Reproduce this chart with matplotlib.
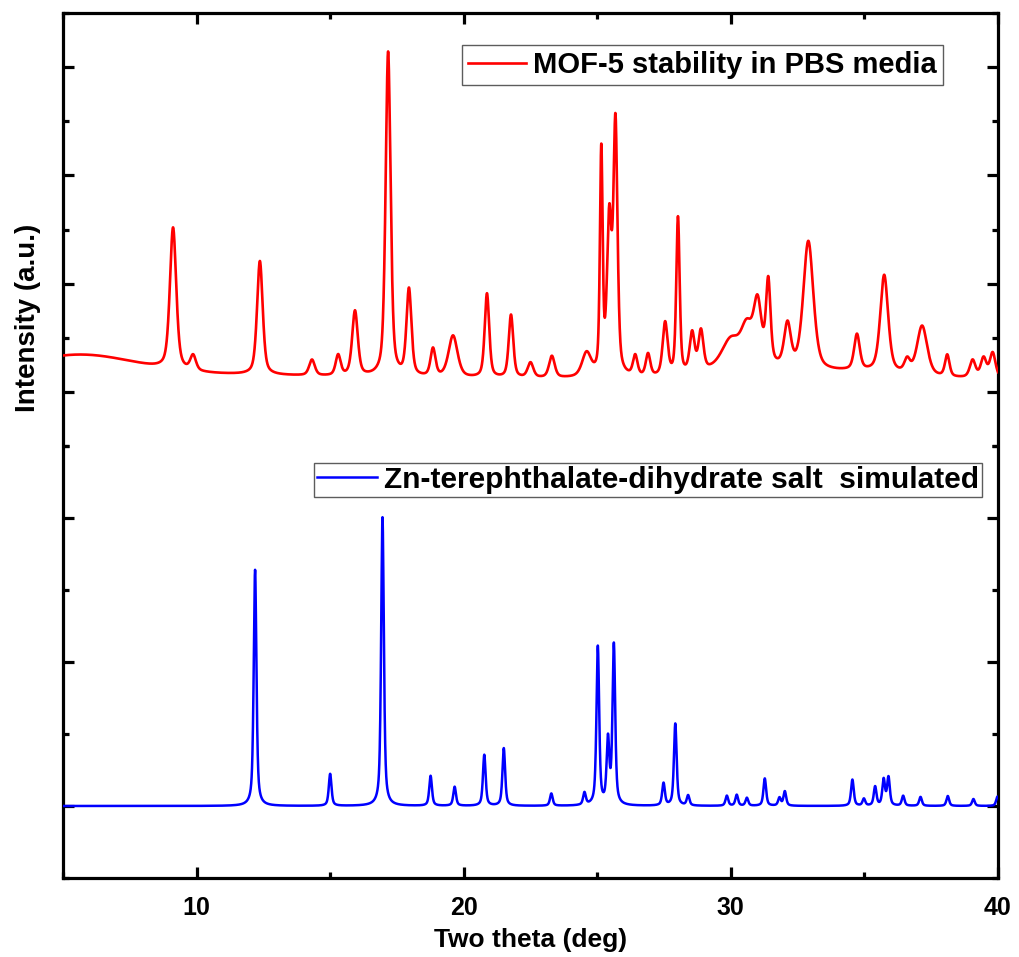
import numpy as np
import matplotlib
matplotlib.use('Agg')
from matplotlib import pyplot as plt
from matplotlib.ticker import MultipleLocator

plt.rcParams['font.family'] = 'Liberation Sans'
plt.rcParams['font.weight'] = 'bold'

# MOF-5 in PBS: peak centre (deg), height above background (a.u.), FWHM (deg)
red_pos = [9.12, 9.87, 12.37, 14.32, 15.30, 15.93, 17.17, 17.95, 18.85, 19.60,
           20.87, 21.77, 22.50, 23.30, 24.60, 25.15, 25.45, 25.68, 26.42, 26.90,
           27.54, 28.02, 28.55, 28.88, 30.00, 30.60, 31.00, 31.40, 32.12, 32.90,
           34.72, 35.74, 36.60, 37.16, 38.10, 39.05, 39.46, 39.80]
red_amp = [1310, 140, 1050, 146, 190, 600, 3000, 800, 257, 386,
           776, 580, 138, 200, 220, 2050, 1400, 2300, 187, 205,
           490, 1450, 363, 370, 250, 320, 550, 760, 400, 1200,
           330, 900, 120, 460, 200, 160, 180, 230]
red_fwhm = [0.28, 0.25, 0.25, 0.25, 0.22, 0.25, 0.22, 0.22, 0.22, 0.40,
            0.20, 0.20, 0.25, 0.25, 0.40, 0.12, 0.20, 0.18, 0.20, 0.20,
            0.22, 0.15, 0.22, 0.22, 0.80, 0.50, 0.35, 0.20, 0.30, 0.45,
            0.25, 0.35, 0.25, 0.45, 0.20, 0.25, 0.25, 0.25]
# broad amorphous background humps: centre, height, FWHM
red_bg_level = 120
red_bg_pos = [5.5, 10.0, 30.5, 34.5]
red_bg_amp = [200, 40, 100, 60]
red_bg_fwhm = [5.0, 10.0, 3.0, 4.0]

# Zn-terephthalate-dihydrate simulated pattern
blue_pos = [12.19, 15.00, 16.96, 18.76, 19.66, 20.77, 21.50, 23.28, 24.52, 25.02,
            25.40, 25.62, 27.48, 27.92, 28.40, 29.85, 30.22, 30.60, 31.27, 31.82,
            32.02, 34.55, 34.98, 35.40, 35.72, 35.90, 36.45, 37.10, 38.12, 39.08, 39.98]
blue_amp = [1640, 222, 2005, 208, 132, 354, 400, 85, 85, 1100,
            440, 1110, 155, 570, 70, 70, 76, 55, 190, 55,
            100, 182, 48, 132, 180, 195, 69, 62, 69, 48, 65]
blue_fwhm = 0.12

x_min, x_max = 5, 40


def pv(x, c, a, w, eta=0.5):
    d = (x - c) / w
    return a * (eta / (1 + 4 * d ** 2) + (1 - eta) * np.exp(-4 * np.log(2) * d ** 2))


tt = np.linspace(x_min, x_max, 7001)
red = np.full_like(tt, red_bg_level, dtype=float)
for c, a, w in zip(red_bg_pos, red_bg_amp, red_bg_fwhm):
    red += pv(tt, c, a, w, eta=0.0)
for c, a, w in zip(red_pos, red_amp, red_fwhm):
    red += pv(tt, c, a, w)
blue = np.zeros_like(tt)
for c, a in zip(blue_pos, blue_amp):
    blue += pv(tt, c, a, blue_fwhm, eta=0.6)

W, H = 1020, 957
fig = plt.figure(figsize=(W / 100, H / 100), dpi=100)
L, R, T, B, M = 63 / W, 998 / W, 1 - 13 / H, 1 - 878 / H, 1 - 446 / H

frame = fig.add_axes([L, B, R - L, T - B])
frame.set_xticks([])
frame.set_yticks([])
frame.patch.set_visible(False)
for s in frame.spines.values():
    s.set_linewidth(2.3)

ax_top = fig.add_axes([L, M, R - L, T - M], zorder=2)
ax_bot = fig.add_axes([L, B, R - L, M - B], zorder=2)

ax_top.plot(tt, red, color='#ff0000', lw=1.9, label='MOF-5 stability in PBS media')
ax_bot.plot(tt, blue, color='#0000ff', lw=1.8, label='Zn-terephthalate-dihydrate salt  simulated')

ax_top.set_ylim(-500, 3500)
ax_bot.set_ylim(-500, 2500)
for ax in (ax_top, ax_bot):
    ax.set_xlim(x_min, x_max)
    ax.patch.set_visible(False)
    for s in ax.spines.values():
        s.set_visible(False)
    ax.xaxis.set_major_locator(MultipleLocator(10))
    ax.xaxis.set_minor_locator(MultipleLocator(5))
    ax.yaxis.set_major_locator(MultipleLocator(1000))
    ax.yaxis.set_minor_locator(MultipleLocator(500))
    ax.tick_params(which='both', direction='in', width=2.3, left=True, right=True,
                   labelleft=False, labelright=False)
    ax.tick_params(which='major', length=8)
    ax.tick_params(which='minor', length=4.5)

ax_top.tick_params(axis='x', which='both', bottom=False, top=True,
                   labelbottom=False, labeltop=False)
ax_bot.tick_params(axis='x', which='both', bottom=True, top=False,
                   labelsize=18, pad=13)
for lab in ax_bot.get_xticklabels():
    lab.set_fontweight('bold')

fig.text(531 / W, 1 - 940 / H, 'Two theta (deg)', ha='center', va='center',
         fontsize=19, fontweight='bold')
fig.text(28 / W, 1 - 318 / H, 'Intensity (a.u.)', ha='center', va='center',
         rotation=90, fontsize=20, fontweight='bold')

leg1 = ax_top.legend(loc='upper right', bbox_to_anchor=(0.941, 0.926),
                     borderaxespad=0, fancybox=False, handlelength=2.0,
                     handletextpad=0.25, borderpad=0.2, prop={'size': 21, 'weight': 'bold'})
leg2 = ax_bot.legend(loc='upper right', bbox_to_anchor=(0.983, 0.961),
                     borderaxespad=0, fancybox=False, handlelength=2.0,
                     handletextpad=0.25, borderpad=0.1, prop={'size': 21.5, 'weight': 'bold'})
for leg in (leg1, leg2):
    leg.get_frame().set_edgecolor('#333333')
    leg.get_frame().set_linewidth(1.0)

fig.savefig('out.png', dpi=100)
